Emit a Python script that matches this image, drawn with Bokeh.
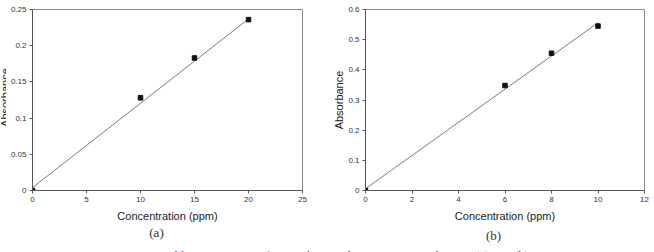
from bokeh.plotting import figure
from bokeh.layouts import row, column
from bokeh.models import Range1d, FixedTicker
from bokeh.core.properties import value
from bokeh.embed import file_html
from bokeh.resources import INLINE
import math

# ---- data (a) Cu ----
a_conc = [0, 10, 15, 20]
a_abs = [0.0, 0.128, 0.183, 0.236]
a_fit_x = [0, 20]
a_fit_y = [0.004, 0.237]
a_xticks = [0, 5, 10, 15, 20, 25]
a_yticks = [0, 0.05, 0.1, 0.15, 0.2, 0.25]
a_ytick_labels = ["0", "0.05", "0.1", "0.15", "0.2", "0.25"]

# ---- data (b) Co ----
b_conc = [0, 6, 8, 10]
b_abs = [0.0, 0.348, 0.455, 0.545]
b_fit_x = [0, 10]
b_fit_y = [0.006, 0.556]
b_xticks = [0, 2, 4, 6, 8, 10, 12]
b_yticks = [0, 0.1, 0.2, 0.3, 0.4, 0.5, 0.6]
b_ytick_labels = ["0", "0.1", "0.2", "0.3", "0.4", "0.5", "0.6"]

x_title = "Concentration (ppm)"
y_title = "Absorbance"
panel_letters = ["(a)", "(b)"]
caption = "Fig. 1: Calibration curves of Cu and Co at the optimum conditions: (a) Cu, (b) Co"

SANS = "Liberation Sans"
SERIF = "Liberation Serif"
TOP_H = 226
STRIP_W = 6   # narrow strip at the far left holding the (cut-off) y title of (a)


def blank(width, height, xr, yr):
    q = figure(width=width, height=height, output_backend="svg", toolbar_location=None,
               x_range=Range1d(*xr), y_range=Range1d(*yr),
               x_axis_type=None, y_axis_type=None,
               min_border=0, min_border_left=0, min_border_right=0,
               min_border_top=0, min_border_bottom=0)
    q.grid.visible = False
    q.outline_line_color = None
    q.background_fill_color = "white"
    q.border_fill_color = "white"
    return q


def make(width, left, right, top, bottom, xr, yr, xt, yt, ytl, xs, ys, fx, fy, with_ytitle):
    p = figure(width=width, height=TOP_H, output_backend="svg", toolbar_location=None,
               x_range=Range1d(*xr), y_range=Range1d(*yr),
               min_border_left=left, min_border_right=right,
               min_border_top=top, min_border_bottom=bottom)
    p.grid.visible = False
    p.outline_line_color = "#8a8a8a"
    p.outline_line_width = 1
    p.background_fill_color = "white"
    p.border_fill_color = "white"
    for ax in (p.xaxis[0], p.yaxis[0]):
        ax.axis_line_color = "#555555"
        ax.major_tick_line_color = "#555555"
        ax.major_tick_out = 3
        ax.major_tick_in = 0
        ax.minor_tick_line_color = None
        ax.major_label_text_font = SANS
        ax.major_label_text_font_size = "8px"
        ax.major_label_text_color = "#333333"
        ax.major_label_standoff = 3
        ax.axis_label_text_font = SANS
        ax.axis_label_text_font_style = "normal"
        ax.axis_label_text_color = "#222222"
        ax.axis_label_text_font_size = "11px"
    p.xaxis.ticker = FixedTicker(ticks=xt)
    p.yaxis.ticker = FixedTicker(ticks=yt)
    p.yaxis.major_label_overrides = {t: l for t, l in zip(yt, ytl)}
    p.xaxis.major_label_overrides = {t: str(t) for t in xt}
    p.xaxis.axis_label = x_title
    p.xaxis.axis_label_standoff = 5
    if with_ytitle:
        p.yaxis.axis_label = y_title
        p.yaxis.axis_label_standoff = 0
    p.yaxis.major_label_standoff = 3
    p.line(fx, fy, line_color="#7a7a7a", line_width=1)
    p.scatter(xs, ys, marker="square", size=4.5, fill_color="#111111", line_color="#111111")
    return p


# far-left strip with the y title of (a), cut off at the page edge as in the original
pl = blank(STRIP_W, TOP_H, (0, STRIP_W), (0, TOP_H))
pl.text(x=[4.5], y=[TOP_H - 110], text=[y_title], angle=math.pi / 2,
        text_font=value(SANS), text_font_size="11px", text_color="#222222",
        text_align="center", text_baseline="alphabetic")

# (a): frame x 32..302, y 8..190
pa = make(330 - STRIP_W, 32 - STRIP_W, 28, 8, TOP_H - 190, (0, 25), (0, 0.25),
          a_xticks, a_yticks, a_ytick_labels, a_conc, a_abs, a_fit_x, a_fit_y, False)
# (b): frame x 364..644, y 9..191
pb = make(324, 34, 10, 9, TOP_H - 191, (0, 12), (0, 0.6),
          b_xticks, b_yticks, b_ytick_labels, b_conc, b_abs, b_fit_x, b_fit_y, True)

# bottom strip: panel letters and the (cut-off) figure caption
BOT_H = 252 - TOP_H
pc = blank(654, BOT_H, (0, 654), (BOT_H, 0))
pc.text(x=[156, 493], y=[232 - TOP_H, 235 - TOP_H], text=panel_letters,
        text_font=value(SERIF), text_font_size="13px", text_color="#333333",
        text_align="center", text_baseline="middle")
pc.text(x=[122], y=[255 - TOP_H], text=[caption],
        text_font=value(SERIF), text_font_size="13px", text_color="#555555",
        text_align="left", text_baseline="alphabetic")

layout = column(row(pl, pa, pb, spacing=0), pc, spacing=0)
open("out.html", "w").write(file_html(layout, INLINE))
